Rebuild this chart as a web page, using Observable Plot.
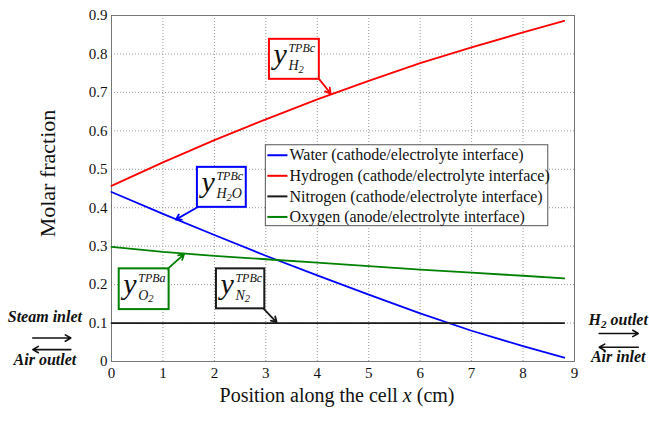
<!DOCTYPE html>
<html><head><meta charset="utf-8">
<script src="https://cdn.jsdelivr.net/npm/d3@7"></script>
<script src="https://cdn.jsdelivr.net/npm/@observablehq/plot@0.6"></script>
<style>body{margin:0;background:#fff} svg{display:block}</style>
</head><body><div id="chart"></div>
<script>
// ---- data ----
const xPos      = [0, 1, 2, 3, 4, 5, 6, 7, 8, 8.8];
const water     = [0.441, 0.384, 0.329, 0.275, 0.224, 0.174, 0.125, 0.080, 0.040, 0.010];
const hydrogen  = [0.457, 0.518, 0.576, 0.630, 0.682, 0.730, 0.776, 0.817, 0.856, 0.886];
const nitrogen  = [0.100, 0.100, 0.100, 0.100, 0.100, 0.100, 0.100, 0.100, 0.100, 0.100];
const oxygen    = [0.298, 0.285, 0.275, 0.266, 0.257, 0.248, 0.239, 0.231, 0.223, 0.216];
const seriesNames  = ["Water (cathode/electrolyte interface)", "Hydrogen (cathode/electrolyte interface)",
                      "Nitrogen (cathode/electrolyte interface)", "Oxygen (anode/electrolyte interface)"];
const seriesColors = ["#0000ff", "#ff0000", "#1a1a1a", "#008000"];
const seriesValues = [water, hydrogen, nitrogen, oxygen];

const xTickValues = [0, 1, 2, 3, 4, 5, 6, 7, 8, 9];
const yTickValues = [0, 0.1, 0.2, 0.3, 0.4, 0.5, 0.6, 0.7, 0.8, 0.9];
const xLabel = "Position along the cell x (cm)";
const yLabel = "Molar fraction";

// annotation boxes (data units)
const annoX1    = [3.07, 1.67, 0.15, 2.04];
const annoX2    = [4.04, 2.62, 1.12, 2.98];
const annoYTop  = [0.838, 0.505, 0.241, 0.241];
const annoYBot  = [0.734, 0.401, 0.135, 0.137];
const annoSup   = ["TPBc", "TPBc", "TPBa", "TPBc"];
const annoSub   = [["H", "2", ""], ["H", "2", "O"], ["O", "2", ""], ["N", "2", ""]];
const annoColor = ["#ff0000", "#0000ff", "#008000", "#1a1a1a"];
const ptrX1 = [4.04, 1.67, 1.09, 2.96];
const ptrY1 = [0.734, 0.401, 0.241, 0.137];
const ptrX2 = [4.26, 1.25, 1.41, 3.21];
const ptrY2 = [0.697, 0.369, 0.279, 0.102];

// legend box (data units)
const legX1 = 3.0, legX2 = 8.49, legYTop = 0.5625, legYBot = 0.352;
const legSwatchX1 = 3.03, legSwatchX2 = 3.42, legTextX = 3.46;
const legRowY = seriesNames.map((d, i) => legYTop - 0.026 - i * 0.0535);

// side labels
const sideLabels = ["Steam inlet", "Air outlet", "H2 outlet", "Air inlet"];
const sideLabelX = [-1.295, -1.295, 9.85, 9.85];
const sideLabelY = [0.117, 0.003, 0.107, 0.013];
const sideArrowX1 = [-1.53, -0.79, 9.48, 10.24];
const sideArrowX2 = [-0.79, -1.53, 10.24, 9.48];
const sideArrowY  = [0.061, 0.031, 0.073, 0.037];

const serif = "'Liberation Serif', 'Times New Roman', serif";
const idx4 = d3.range(4);
const ANNO = "\u200By"; // marker to find annotation texts

const lineMarks = seriesValues.map((vals, s) =>
  Plot.line(xPos.map((x, i) => ({x, y: vals[i]})), {x: "x", y: "y", stroke: seriesColors[s], strokeWidth: 1.8})
);

const plot = Plot.plot({
  width: 649, height: 422,
  marginLeft: 111, marginRight: 75, marginTop: 15, marginBottom: 61,
  style: {fontFamily: serif, fontSize: "15px", background: "white", color: "#111"},
  color: {type: "identity"},
  x: {domain: [0, 9], ticks: xTickValues, tickSize: 0, tickPadding: 6, label: null},
  y: {domain: [0, 0.9], ticks: yTickValues, tickSize: 0, tickPadding: 4, label: null,
      tickFormat: d => d === 0 ? "0" : d3.format(".1f")(d)},
  marks: [
    Plot.ruleX(xTickValues.slice(1, -1), {stroke: "#999", strokeDasharray: "1,2"}),
    Plot.ruleY(yTickValues.slice(1, -1), {stroke: "#999", strokeDasharray: "1,2"}),
    Plot.frame({stroke: "#777"}),
    ...lineMarks,
    // legend
    Plot.rect([0], {x1: [legX1], x2: [legX2], y1: [legYBot], y2: [legYTop], fill: "white", stroke: "#555"}),
    Plot.link(idx4, {x1: idx4.map(() => legSwatchX1), x2: idx4.map(() => legSwatchX2), y1: legRowY, y2: legRowY,
      stroke: seriesColors, strokeWidth: 2}),
    Plot.text(seriesNames, {x: idx4.map(() => legTextX), y: legRowY, text: d => d, textAnchor: "start",
      fontSize: 16, fill: "#111"}),
    // annotations
    Plot.rect(idx4, {x1: annoX1, x2: annoX2, y1: annoYBot, y2: annoYTop, fill: "white", stroke: annoColor, strokeWidth: 2}),
    Plot.arrow(idx4, {x1: ptrX1, y1: ptrY1, x2: ptrX2, y2: ptrY2, stroke: annoColor, strokeWidth: 1.8, headLength: 5}),
    Plot.text(idx4, {x: annoX1, y: annoYTop, text: () => ANNO, textAnchor: "start", lineAnchor: "top",
      fill: "#111"}),
    // side labels
    Plot.arrow(idx4, {x1: sideArrowX1, x2: sideArrowX2, y1: sideArrowY, y2: sideArrowY, stroke: "#111",
      strokeWidth: 1.6, headLength: 6}),
    Plot.text(sideLabels, {x: sideLabelX, y: sideLabelY, text: d => d, fontWeight: "bold", fontStyle: "italic",
      fontSize: 16, fill: "#111"}),
    // axis labels
    Plot.text([xLabel], {frameAnchor: "bottom", dy: 40, dx: -6, text: d => d, fontSize: 20, fill: "#111",
      textAnchor: "middle"}),
    Plot.text([yLabel], {frameAnchor: "left", dx: -64, dy: -15, rotate: -90, text: d => d, fontSize: 22,
      fill: "#111", textAnchor: "middle"})
  ]
});
document.getElementById("chart").append(plot);

// rich text: super/subscripts and italics
const root = d3.select(plot);
let annoI = 0;
root.selectAll("text").each(function() {
  const t = d3.select(this);
  const s = this.textContent;
  if (s === ANNO) {
    const i = annoI++;
    if (!this.getAttribute("transform")) {
      const x = +this.getAttribute("x") || 0, y = +this.getAttribute("y") || 0;
      this.setAttribute("transform", `translate(${x},${y})`);
      this.removeAttribute("x");
    }
    t.attr("y", null).attr("dy", null).text(null).attr("text-anchor", "start");
    t.append("tspan").attr("x", 4).attr("y", 25).attr("font-size", 30).attr("font-style", "italic").text("y");
    t.append("tspan").attr("x", 19).attr("y", 13).attr("font-size", 12).attr("font-style", "italic").text(annoSup[i]);
    const [a, b, c] = annoSub[i];
    t.append("tspan").attr("x", 19).attr("y", 31).attr("font-size", 14).attr("font-style", "italic").text(a);
    t.append("tspan").attr("dy", 2.5).attr("font-size", 10.5).attr("font-style", "italic").text(b);
    if (c) t.append("tspan").attr("dy", -2.5).attr("font-size", 14).attr("font-style", "italic").text(c);
  } else if (s === "H2 outlet") {
    t.text(null);
    t.append("tspan").text("H");
    t.append("tspan").attr("dy", 3).attr("font-size", 11).text("2");
    t.append("tspan").attr("dy", -3).text(" outlet");
  } else if (s === xLabel) {
    t.text(null);
    t.append("tspan").text("Position along the cell ");
    t.append("tspan").attr("font-style", "italic").text("x");
    t.append("tspan").text(" (cm)");
  }
});
</script>
</body></html>
